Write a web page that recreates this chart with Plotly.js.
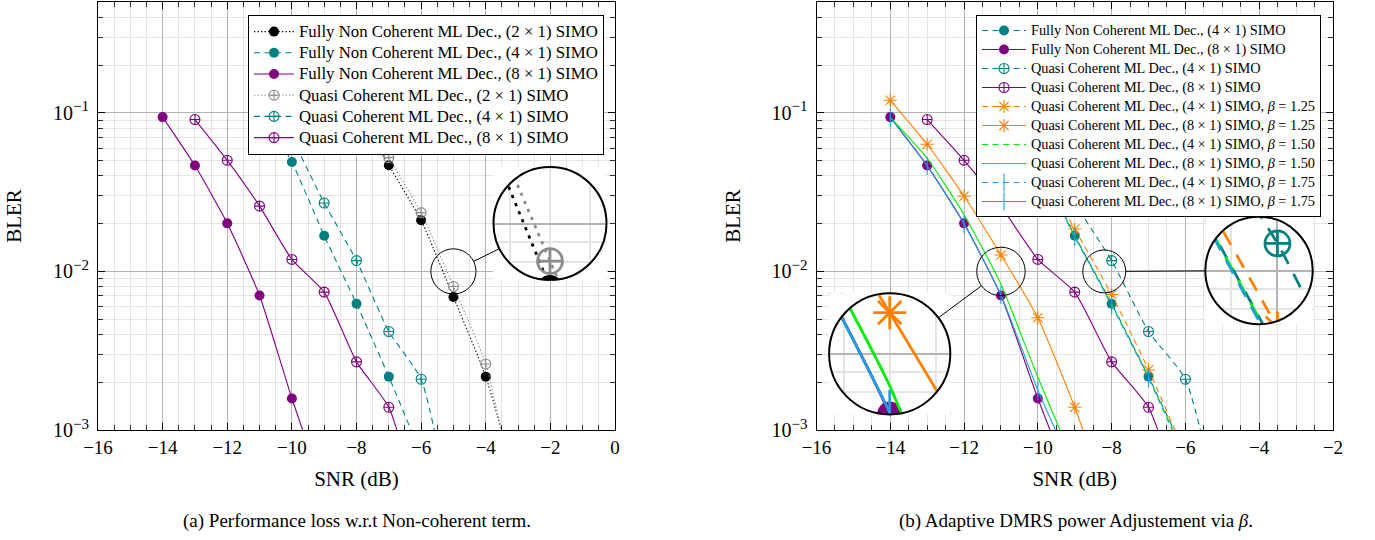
<!DOCTYPE html>
<html><head><meta charset="utf-8">
<script src="https://cdn.plot.ly/plotly-3.0.1.min.js"></script>
<style>html,body{margin:0;padding:0;background:#fff}</style>
</head><body><div id="chart" style="width:1375px;height:540px"></div>
<script>
// ---------------- data ----------------
const snrFnc2 = [-8, -7, -6, -5, -4, -3];
const blerFnc2 = [0.105, 0.0467, 0.021, 0.0069, 0.00217, 0.00042];
const snrQc2 = [-8, -7, -6, -5, -4, -3];
const blerQc2 = [0.116, 0.0522, 0.0235, 0.00804, 0.00261, 0.0003];
const snrFnc4 = [-11, -10, -9, -8, -7, -6];
const blerFnc4 = [0.11, 0.049, 0.0168, 0.00625, 0.00217, 0.0007];
const snrQc4 = [-10, -9, -8, -7, -6, -5];
const blerQc4 = [0.07, 0.027, 0.0117, 0.00418, 0.00209, 0.00026];
const snrFnc8 = [-14, -13, -12, -11, -10, -9];
const blerFnc8 = [0.094, 0.0465, 0.0201, 0.00705, 0.00158, 0.0004];
const snrQc8 = [-13, -12, -11, -10, -9, -8, -7, -6];
const blerQc8 = [0.0907, 0.0502, 0.0258, 0.0119, 0.0074, 0.00269, 0.00139, 0.0003];
const snrQc4b125 = [-10, -9, -8, -7, -6];
const blerQc4b125 = [0.047, 0.0185, 0.00715, 0.0024, 0.0007];
const snrQc8b125 = [-14, -13, -12, -11, -10, -9, -8];
const blerQc8b125 = [0.12, 0.0634, 0.0298, 0.0127, 0.0051, 0.00139, 0.0003];
const snrQc4b150 = [-10, -9, -8, -7, -6];
const blerQc4b150 = [0.048, 0.0167, 0.0062, 0.00215, 0.00068];
const snrQc8b150 = [-14, -13, -12, -11, -10, -9];
const blerQc8b150 = [0.0935, 0.0517, 0.0228, 0.0083, 0.00215, 0.0006];
const snrQc4b175 = [-10, -9, -8, -7, -6];
const blerQc4b175 = [0.047, 0.0165, 0.0061, 0.00212, 0.00065];
const snrQc8b175 = [-14, -13, -12, -11, -10, -9];
const blerQc8b175 = [0.0935, 0.0462, 0.0199, 0.0071, 0.00178, 0.00054];

const yTickVals = [0.001, 0.01, 0.1];
const yTickExp = ['\u22123', '\u22122', '\u22121'];
const yTickText = yTickExp.map(e => '10<sup><span style="font-size:15px">' + e + '</span></sup>');
const yMinorVals = [];
[0.001, 0.01, 0.1].forEach(d => { for (let k = 2; k <= 9; k++) yMinorVals.push(+(d * k).toPrecision(3)); });

const captionA = '(a) Performance loss w.r.t Non-coherent term.';
const captionB = '(b) Adaptive DMRS power Adjustement via <i>\u03b2</i>.';

// ---------------- styles ----------------
const FONT = '"Liberation Serif", serif';
const W = 1375, H = 540;
const PURPLE = '#800080', TEAL = '#008080', ORANGE = '#ff8000', GREEN = '#00ee00', BLUE = '#1f9fdf', GRAY = '#8c8c8c';
const LW = 1.1;
const LEG1_TXT = 16.8, LEG2_TXT = 14.3;

function series(name, x, y, color, dash, symbol, filled) {
  return {name, x, y, color, dash, symbol, filled};
}
const b = '<i>\u03b2</i>';
const sFnc2 = series('Fully Non Coherent ML Dec., (2 \u00d7 1) SIMO', snrFnc2, blerFnc2, '#000', [1.3, 2.2], 'circle', true);
const sFnc4 = series('Fully Non Coherent ML Dec., (4 \u00d7 1) SIMO', snrFnc4, blerFnc4, TEAL, [6, 4.5], 'circle', true);
const sFnc8 = series('Fully Non Coherent ML Dec., (8 \u00d7 1) SIMO', snrFnc8, blerFnc8, PURPLE, null, 'circle', true);
const sQc2 = series('Quasi Coherent ML Dec., (2 \u00d7 1) SIMO', snrQc2, blerQc2, GRAY, [1.3, 2.2], 'circle-cross-open', false);
const sQc4 = series('Quasi Coherent ML Dec., (4 \u00d7 1) SIMO', snrQc4, blerQc4, TEAL, [6, 4.5], 'circle-cross-open', false);
const sQc8 = series('Quasi Coherent ML Dec., (8 \u00d7 1) SIMO', snrQc8, blerQc8, PURPLE, null, 'circle-cross-open', false);
const sQc4b125 = series('Quasi Coherent ML Dec., (4 \u00d7 1) SIMO, ' + b + ' = 1.25', snrQc4b125, blerQc4b125, ORANGE, [6, 4.5], 'asterisk-open', false);
const sQc8b125 = series('Quasi Coherent ML Dec., (8 \u00d7 1) SIMO, ' + b + ' = 1.25', snrQc8b125, blerQc8b125, ORANGE, null, 'asterisk-open', false);
const sQc4b150 = series('Quasi Coherent ML Dec., (4 \u00d7 1) SIMO, ' + b + ' = 1.50', snrQc4b150, blerQc4b150, GREEN, [6, 4.5], null, false);
const sQc8b150 = series('Quasi Coherent ML Dec., (8 \u00d7 1) SIMO, ' + b + ' = 1.50', snrQc8b150, blerQc8b150, GREEN, null, null, false);
const sQc4b175 = series('Quasi Coherent ML Dec., (4 \u00d7 1) SIMO, ' + b + ' = 1.75', snrQc4b175, blerQc4b175, BLUE, [6, 4.5], 'line-ns-open', false);
const sQc8b175 = series('Quasi Coherent ML Dec., (8 \u00d7 1) SIMO, ' + b + ' = 1.75', snrQc8b175, blerQc8b175, BLUE, null, 'line-ns-open', false);

const leftSeries = [sFnc2, sFnc4, sFnc8, sQc2, sQc4, sQc8];
const rightSeries = [sFnc4, sFnc8, sQc4, sQc8, sQc4b125, sQc8b125, sQc4b150, sQc8b150, sQc4b175, sQc8b175];

function makeTrace(s, xa, ya, k, legend, showlegend, txtSize) {
  const t = {
    type: 'scatter', x: s.x, y: s.y, xaxis: xa, yaxis: ya,
    name: txtSize ? '<span style="font-size:' + txtSize + 'px">' + s.name + '</span>' : s.name,
    mode: s.symbol ? 'lines+markers' : 'lines',
    line: {color: s.color, width: LW * k, shape: 'spline', smoothing: 0.5,
           dash: s.dash ? s.dash.map(v => (v * k) + 'px').join(',') : 'solid'},
    showlegend: showlegend, hoverinfo: 'skip', cliponaxis: true
  };
  if (legend) t.legend = legend;
  if (s.symbol) {
    const size = (s.symbol === 'line-ns-open' ? 13 : (s.symbol === 'asterisk-open' ? 11 : 10)) * k;
    t.marker = {symbol: s.symbol, size: size, color: s.color,
                line: {color: s.color, width: s.filled ? 0 : LW * k}};
  }
  return t;
}

// ---------------- geometry ----------------
const plotTop = 2, plotBot = 430;
const leftPx = [98, 615], rightPx = [816.5, 1333];
const yRange = [-3, Math.log10(0.5)];
const leftRange = [-16, 0], rightRange = [-16, -2];
const ydom = [1 - plotBot / H, 1 - plotTop / H];

function mainAxisX(px, range, anchor) {
  return {
    domain: [px[0] / W, px[1] / W], range: range, anchor: anchor,
    tickmode: 'linear', tick0: 0, dtick: 2,
    ticks: 'inside', ticklen: 7, tickwidth: 1, tickcolor: '#000',
    showline: true, linecolor: '#000', linewidth: 1, mirror: 'ticks',
    showgrid: true, gridcolor: '#b4b4b4', gridwidth: 1, zeroline: false,
    minor: {tick0: 0, dtick: 0.5, ticks: 'inside', ticklen: 5, tickcolor: '#000', tickwidth: 0.8,
            showgrid: true, gridcolor: '#e4e4e4', gridwidth: 1},
    tickfont: {family: FONT, size: 19, color: '#000'},
    title: {text: 'SNR (dB)', font: {family: FONT, size: 21, color: '#000'}, standoff: 14},
    automargin: false, fixedrange: true
  };
}
function mainAxisY(anchor) {
  return {
    domain: ydom, type: 'log', range: yRange, anchor: anchor,
    tickmode: 'array', tickvals: yTickVals, ticktext: yTickText,
    ticks: 'inside', ticklen: 7, tickwidth: 1, tickcolor: '#000', ticklabelstandoff: 4,
    showline: true, linecolor: '#000', linewidth: 1, mirror: 'ticks',
    showgrid: true, gridcolor: '#b4b4b4', gridwidth: 1, zeroline: false,
    minor: {tickmode: 'array', tickvals: yMinorVals, ticks: 'inside', ticklen: 5, tickcolor: '#000', tickwidth: 0.8,
            showgrid: true, gridcolor: '#e4e4e4', gridwidth: 1},
    tickfont: {family: FONT, size: 20, color: '#000'},
    title: {text: 'BLER', font: {family: FONT, size: 21, color: '#000'}, standoff: 25},
    automargin: false, fixedrange: true
  };
}

// magnifiers: centre (data) in the parent plot, big circle centre/radius in px
const ZOOM = 2.5;
const mags = [
  {parent: 0, cx: -5, cy: -2.0, bx: 550, by: 223.5, br: 56.5},
  {parent: 1, cx: -11, cy: -2.0, bx: 889.7, by: 353.8, br: 60.6},
  {parent: 1, cx: -8.2, cy: -2.0, bx: 1259, by: 270.5, br: 53.7}
];

const traces = [];
leftSeries.forEach(s => traces.push(makeTrace(s, 'x', 'y', 1, 'legend', true, LEG1_TXT)));
rightSeries.forEach(s => traces.push(makeTrace(s, 'x2', 'y2', 1, 'legend2', true, LEG2_TXT)));

const legendBase = {xanchor: 'right', y: 1 - 15 / H, yanchor: 'top', bgcolor: '#fff',
  bordercolor: '#000', borderwidth: 1, tracegroupgap: 0, itemwidth: 40};
const layout = {
  width: W, height: H, margin: {l: 0, r: 0, t: 0, b: 0},
  paper_bgcolor: '#fff', plot_bgcolor: 'rgba(0,0,0,0)',
  font: {family: FONT, color: '#000'},
  xaxis: mainAxisX(leftPx, leftRange, 'y'),
  yaxis: mainAxisY('x'),
  xaxis2: mainAxisX(rightPx, rightRange, 'y2'),
  yaxis2: mainAxisY('x2'),
  legend: Object.assign({}, legendBase, {x: 604 / W, font: {family: FONT, size: 14, color: '#000'}}),
  legend2: Object.assign({}, legendBase, {x: 1321 / W, itemwidth: 44, font: {family: FONT, size: 11.7, color: '#000'}}),
  shapes: [],
  annotations: [
    {text: captionA, xref: 'paper', yref: 'paper', x: 357 / W, y: 1 - 521 / H, showarrow: false,
     xanchor: 'center', yanchor: 'middle', font: {family: FONT, size: 19, color: '#000'}},
    {text: captionB, xref: 'paper', yref: 'paper', x: 1076 / W, y: 1 - 521 / H, showarrow: false,
     xanchor: 'center', yanchor: 'middle', font: {family: FONT, size: 19, color: '#000'}}
  ]
};

mags.forEach((m, i) => {
  const n = i + 3;
  const px = m.parent === 0 ? leftPx : rightPx;
  const xr = m.parent === 0 ? leftRange : rightRange;
  const pxPerX = (px[1] - px[0]) / (xr[1] - xr[0]);
  const pxPerDec = (plotBot - plotTop) / (yRange[1] - yRange[0]);
  const sr = m.br / ZOOM;
  const sx = px[0] + (m.cx - xr[0]) * pxPerX;
  const sy = plotBot - (m.cy - yRange[0]) * pxPerDec;
  const hx = sr / pxPerX, hy = sr / pxPerDec;
  const xa = 'x' + n, ya = 'y' + n;
  layout['xaxis' + n] = {
    domain: [(m.bx - m.br) / W, (m.bx + m.br) / W], range: [m.cx - hx, m.cx + hx], anchor: ya,
    showticklabels: false, ticks: '', showline: false, zeroline: false,
    tickmode: 'linear', tick0: 0, dtick: 2, showgrid: true, gridcolor: '#b4b4b4', gridwidth: ZOOM * 0.8,
    minor: {tick0: 0, dtick: 0.5, showgrid: true, gridcolor: '#e4e4e4', gridwidth: ZOOM * 0.8},
    fixedrange: true
  };
  layout['yaxis' + n] = {
    domain: [1 - (m.by + m.br) / H, 1 - (m.by - m.br) / H], type: 'log', range: [m.cy - hy, m.cy + hy], anchor: xa,
    showticklabels: false, ticks: '', showline: false, zeroline: false,
    tickmode: 'array', tickvals: yTickVals, showgrid: true, gridcolor: '#b4b4b4', gridwidth: ZOOM * 0.8,
    minor: {tickmode: 'array', tickvals: yMinorVals, showgrid: true, gridcolor: '#e4e4e4', gridwidth: ZOOM * 0.8},
    fixedrange: true
  };
  const src = m.parent === 0 ? leftSeries : rightSeries;
  src.forEach(s => traces.push(makeTrace(s, xa, ya, ZOOM, null, false, null)));
  // white disc under the magnified content
  layout.shapes.push({type: 'circle', layer: 'below', xref: xa, yref: ya,
    x0: m.cx - hx, x1: m.cx + hx, y0: Math.pow(10, m.cy - hy), y1: Math.pow(10, m.cy + hy),
    fillcolor: '#fff', line: {width: 0}});
  // mask outside the circle (square with circular hole)
  const bx0 = (m.bx - m.br) / W, bx1 = (m.bx + m.br) / W;
  const by0 = 1 - (m.by + m.br) / H, by1 = 1 - (m.by - m.br) / H;
  let p = `M${bx0},${by0} L${bx1},${by0} L${bx1},${by1} L${bx0},${by1} Z `;
  const N = 96;
  for (let k = 0; k <= N; k++) {
    const a = 2 * Math.PI * k / N;
    const X = (m.bx + (m.br - 0.3) * Math.cos(a)) / W, Y = 1 - (m.by + (m.br - 0.3) * Math.sin(a)) / H;
    p += (k === 0 ? 'M' : 'L') + X + ',' + Y + ' ';
  }
  p += 'Z';
  layout.shapes.push({type: 'path', layer: 'above', xref: 'paper', yref: 'paper', path: p,
    fillcolor: '#fff', fillrule: 'evenodd', line: {width: 0}});
  // outlines
  layout.shapes.push({type: 'circle', layer: 'above', xref: 'paper', yref: 'paper',
    x0: (m.bx - m.br) / W, x1: (m.bx + m.br) / W, y0: 1 - (m.by + m.br) / H, y1: 1 - (m.by - m.br) / H,
    line: {color: '#000', width: 2}});
  layout.shapes.push({type: 'circle', layer: 'above', xref: 'paper', yref: 'paper',
    x0: (sx - sr) / W, x1: (sx + sr) / W, y0: 1 - (sy + sr) / H, y1: 1 - (sy - sr) / H,
    line: {color: '#000', width: 1}});
  const dx = m.bx - sx, dy = m.by - sy, d = Math.hypot(dx, dy);
  const ux = dx / d, uy = dy / d;
  layout.shapes.push({type: 'line', layer: 'above', xref: 'paper', yref: 'paper',
    x0: (sx + sr * ux) / W, y0: 1 - (sy + sr * uy) / H, x1: (m.bx - m.br * ux) / W, y1: 1 - (m.by - m.br * uy) / H,
    line: {color: '#000', width: 1}});
});

Plotly.newPlot('chart', traces, layout, {displayModeBar: false, staticPlot: true});
</script>
</body></html>
